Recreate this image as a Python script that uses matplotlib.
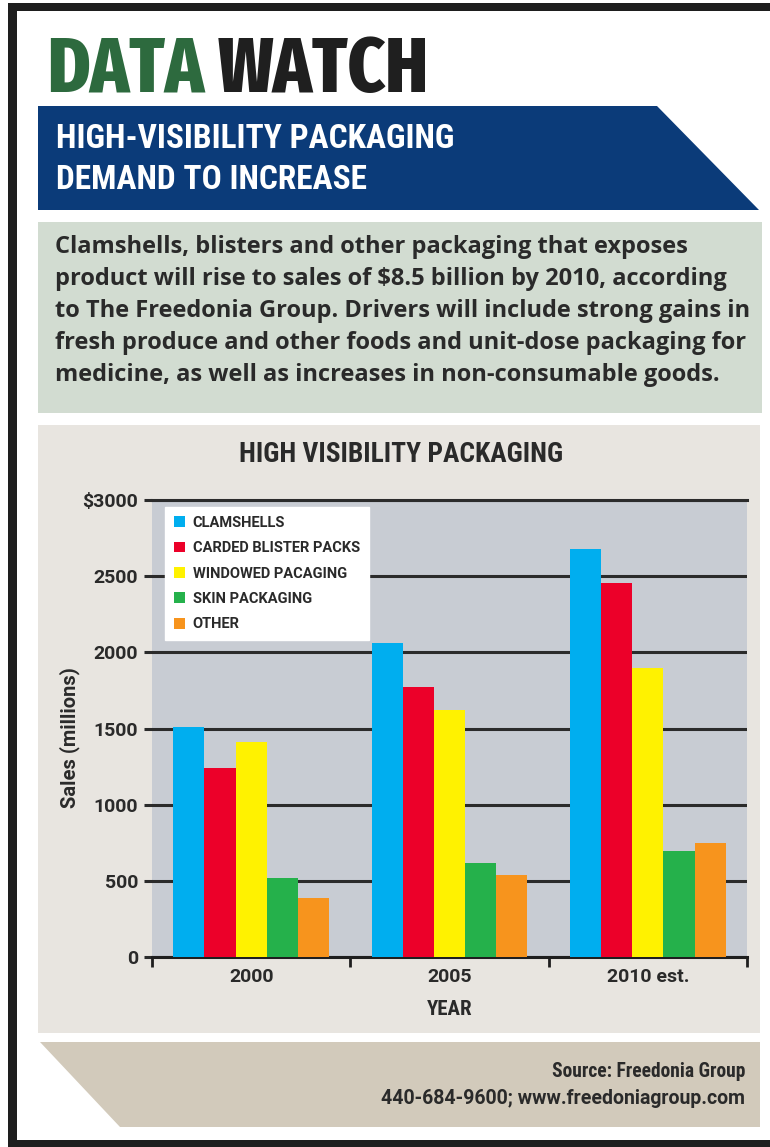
import matplotlib
matplotlib.use("Agg")
import matplotlib.pyplot as plt
from matplotlib.patches import Polygon, Rectangle
import numpy as np

# ---------------- data ----------------
years = ["2000", "2005", "2010 est."]
series_names = ["CLAMSHELLS", "CARDED BLISTER PACKS", "WINDOWED PACAGING", "SKIN PACKAGING", "OTHER"]
clamshells = [1510, 2060, 2680]
carded_blister = [1240, 1770, 2455]
windowed = [1410, 1620, 1900]
skin = [520, 620, 695]
other = [390, 540, 748]
series_colors = ["#00aeef", "#ec0029", "#fff200", "#25b14b", "#f7941d"]
y_ticks = [0, 500, 1000, 1500, 2000, 2500, 3000]
y_tick_labels = ["0", "500", "1000", "1500", "2000", "2500", "$3000"]

title_main = ("DATA", "WATCH")
banner_lines = ["HIGH-VISIBILITY PACKAGING", "DEMAND TO INCREASE"]
paragraph = [
    "Clamshells, blisters and other packaging that exposes",
    "product will rise to sales of $8.5 billion by 2010, according",
    "to The Freedonia Group. Drivers will include strong gains in",
    "fresh produce and other foods and unit-dose packaging for",
    "medicine, as well as increases in non-consumable goods.",
]
chart_title = "HIGH VISIBILITY PACKAGING"
source_lines = ["Source: Freedonia Group", "440-684-9600; www.freedoniagroup.com"]

COND = ["Roboto Condensed", "DejaVu Sans"]
WIDE = ["Roboto", "DejaVu Sans"]
PARA = ["Open Sans", "DejaVu Sans"]
HEAD = ["Fira Sans Extra Condensed", "Roboto Condensed", "DejaVu Sans"]
TXT = "#2a2a2a"

W, H = 770, 1147
fig = plt.figure(figsize=(W / 100, H / 100), dpi=100)
fig.patch.set_facecolor("white")
renderer = fig.canvas.get_renderer()

bg = fig.add_axes([0, 0, 1, 1])
bg.set_xlim(0, W)
bg.set_ylim(H, 0)
bg.axis("off")


def text_width(text, size, **kw):
    t = bg.text(0, 0, text, fontsize=size, **kw)
    w = t.get_window_extent(renderer).width
    t.remove()
    return w


# outer frame (left, top, bottom black edges)
bg.add_patch(Rectangle((8, 3), W, 8, color="#1e1e1e", lw=0))
bg.add_patch(Rectangle((8, 3), 9, H, color="#1e1e1e", lw=0))
bg.add_patch(Rectangle((8, 1140), W, 8, color="#1e1e1e", lw=0))

# header: one size for both words, fitted to the full span 47..428
hk = dict(family=HEAD, fontweight="heavy")
gap = 13
w_all = text_width(title_main[0], 40, **hk) + text_width(title_main[1], 40, **hk)
hs = 40 * (428 - 47 - gap) / w_all
wd = text_width(title_main[0], hs, **hk)
bg.text(47, 92, title_main[0], color="#2d6a3e", fontsize=hs, va="baseline", ha="left", **hk)
bg.text(47 + wd + gap, 92, title_main[1], color="#1f1f1f", fontsize=hs, va="baseline",
        ha="left", **hk)

# blue banner
bg.add_patch(Polygon([(38, 106), (657, 106), (759, 210), (38, 210)], closed=True,
                     color="#0b3b79", lw=0))
bg.text(56, 148, banner_lines[0], color="white", fontsize=24, fontweight="bold",
        family=COND, va="baseline")
bg.text(56, 189, banner_lines[1], color="white", fontsize=24, fontweight="bold",
        family=COND, va="baseline")

# paragraph box
bg.add_patch(Rectangle((38, 222), 724, 191, color="#d2dcd1", lw=0))
targets = [712, 741, 741, 727, 713]
pk = dict(family=PARA, fontweight="bold")
ratio = sum(t - 55 for t in targets) / sum(text_width(l, 20, **pk) for l in paragraph)
ps = 20 * ratio
for i, line in enumerate(paragraph):
    bg.text(55, 253 + i * 32, line, color=TXT, fontsize=ps, va="baseline", **pk)

# chart panel
bg.add_patch(Rectangle((38, 425), 722, 608, color="#e8e5e0", lw=0))
bg.text(401, 462, chart_title, color=TXT, fontsize=19.7, fontweight="bold",
        family=COND, va="baseline", ha="center")

# source band
bg.add_patch(Polygon([(40, 1042), (760, 1042), (760, 1127), (120, 1127)], closed=True,
                     color="#d2cabb", lw=0))
ss = 20 * 365 / text_width(source_lines[1], 20, family=WIDE, fontweight="bold")
bg.text(745, 1077, source_lines[0], color=TXT, fontsize=ss, fontweight="bold",
        family=COND, va="baseline", ha="right")
bg.text(745, 1104, source_lines[1], color=TXT, fontsize=ss, fontweight="bold",
        family=WIDE, va="baseline", ha="right")

# ---------------- bar chart ----------------
px0, px1, py_top, py_bot = 152, 747, 500, 957
ax = fig.add_axes([px0 / W, 1 - py_bot / H, (px1 - px0) / W, (py_bot - py_top) / H])
ax.set_facecolor("#c8ccd3")

x = np.arange(len(years))
bw = 0.157
all_series = [clamshells, carded_blister, windowed, skin, other]
handles = []
for k, (vals, col, name) in enumerate(zip(all_series, series_colors, series_names)):
    h = ax.bar(x + (k - 2) * bw, vals, width=bw, color=col, label=name, zorder=3, lw=0)
    handles.append(h)

ax.set_xlim(-0.5, 2.5)
ax.set_ylim(0, 3000)
ax.set_yticks(y_ticks)
ax.set_yticklabels(y_tick_labels)
ax.yaxis.grid(True, color="#2b2b2b", lw=2.2, zorder=1)
ax.set_axisbelow(True)

for sp in ["left", "right"]:
    ax.spines[sp].set_visible(False)
ax.spines["top"].set_color("#2b2b2b")
ax.spines["top"].set_linewidth(2.2)
ax.spines["bottom"].set_color("#1e1e1e")
ax.spines["bottom"].set_linewidth(2.2)

ax.tick_params(axis="y", length=6, width=2.2, color="#2b2b2b", pad=4,
               labelsize=14, labelcolor=TXT)
ax.set_xticks(x)
ax.set_xticklabels(years)
ax.tick_params(axis="x", length=0, pad=8, labelsize=14, labelcolor=TXT)
ax.set_xticks([-0.5, 0.5, 1.5, 2.5], minor=True)
ax.tick_params(axis="x", which="minor", length=7, width=2, color="#1e1e1e", direction="out")
for lab in ax.get_xticklabels() + ax.get_yticklabels():
    lab.set_family(WIDE)
    lab.set_fontweight("bold")

ax.set_xlabel("YEAR", fontsize=15, fontweight="bold", family=COND, color=TXT, labelpad=10)
ax.set_ylabel("Sales (millions)", fontsize=14.5, fontweight="bold", family=WIDE, color=TXT)
ax.yaxis.set_label_coords((80 - px0) / (px1 - px0), (py_bot - 738) / (py_bot - py_top))

leg = ax.legend(handles=handles, loc="upper left",
                bbox_to_anchor=(165 / W, 1 - 507 / H), bbox_transform=fig.transFigure,
                borderaxespad=0, frameon=True, fancybox=False, framealpha=1,
                facecolor="white", edgecolor="white", borderpad=0.6, labelspacing=0.78,
                handlelength=0.75, handleheight=0.75, handletextpad=0.55,
                prop={"family": WIDE, "weight": "bold", "size": 10.5})
for t in leg.get_texts():
    t.set_color(TXT)
leg.set_zorder(5)

fig.savefig("out.png", dpi=100, facecolor="white")
